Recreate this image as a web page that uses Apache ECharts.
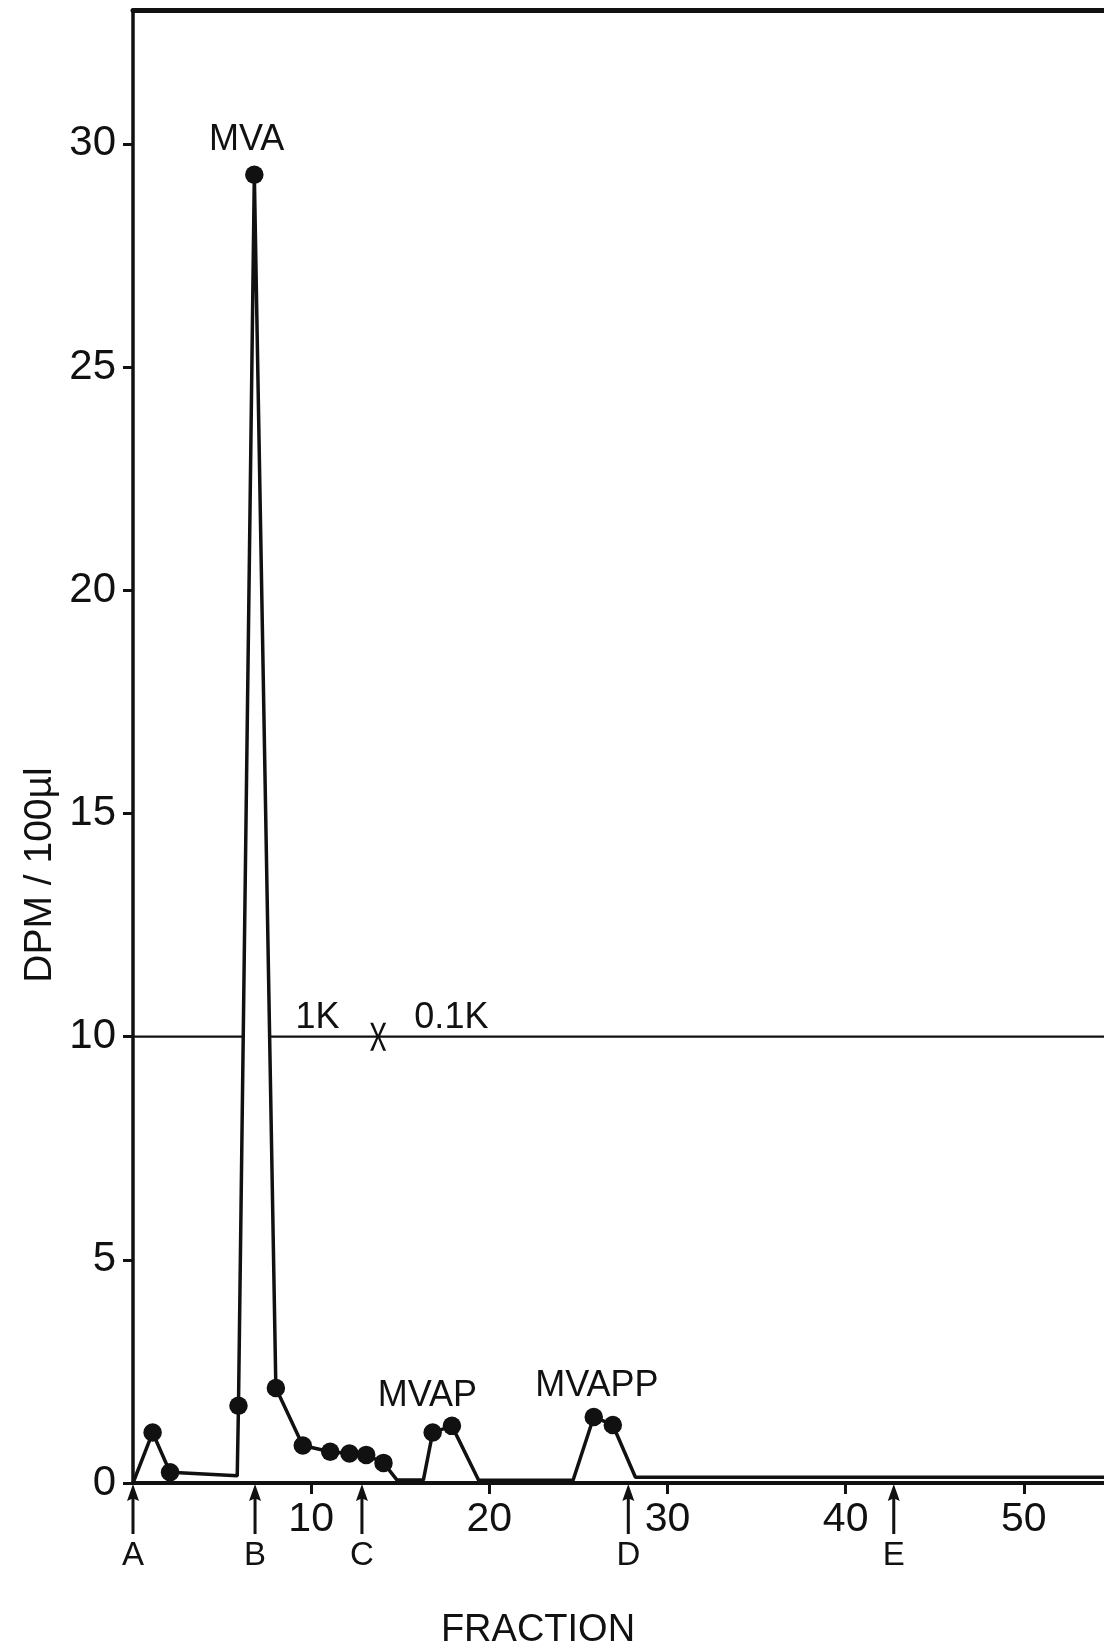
<!DOCTYPE html>
<html><head><meta charset="utf-8">
<script src="https://cdn.jsdelivr.net/npm/echarts@6/dist/echarts.min.js"></script>
<style>html,body{margin:0;padding:0;background:#fff}#c{width:1104px;height:1652px}</style>
</head><body><div id="c"></div>
<script>
// Measured fractions (filled dots)
const dotFractions = [1.1, 2.08, 5.92, 6.81, 8.02, 9.53, 11.07, 12.15, 13.09, 14.06, 16.82, 17.9, 25.86, 26.93];
const dotValues    = [1.13, 0.24, 1.73, 29.31, 2.13, 0.84, 0.70, 0.66, 0.63, 0.45, 1.13, 1.28, 1.48, 1.30];
// Baseline vertices of the trace (no marker)
const baseFractions = [0, 5.85, 14.81, 16.3, 19.4, 24.7, 28.2, 54.5];
const baseValues    = [0, 0.16, 0.07, 0.07, 0.06, 0.06, 0.13, 0.13];
// Tick values
const xTicks = [10, 20, 30, 40, 50];
const yTicks = [0, 5, 10, 15, 20, 25, 30];
// Fraction markers (arrows)
const markerLabels = ['A', 'B', 'C', 'D', 'E'];
const markerFractions = [0, 6.85, 12.85, 27.8, 42.7];
// Peak annotations
const annoLabels = ['MVA', '1K', '0.1K', 'MVAP', 'MVAPP'];
const annoFractions = [6.38, 10.36, 17.87, 16.52, 26.04];
const annoValues = [30.08, 10.42, 10.42, 1.95, 2.18];
// Scale change line and cross
const scaleChangeValue = 10;
const crossFraction = 13.76;

const FONT = "'Liberation Sans', Arial, sans-serif";
const INK = '#111';
const X_MAX = 54.5, Y_MAX = 33;

// merge trace
const trace = [];
dotFractions.forEach((f, i) => trace.push([f, dotValues[i]]));
baseFractions.forEach((f, i) => trace.push([f, baseValues[i]]));
trace.sort((a, b) => a[0] - b[0]);

// where trace crosses the scale-change line (the line is broken inside the MVA peak)
const crossings = [];
for (let i = 1; i < trace.length; i++) {
  const [x0, y0] = trace[i - 1], [x1, y1] = trace[i];
  if ((y0 - scaleChangeValue) * (y1 - scaleChangeValue) < 0) {
    crossings.push(x0 + (x1 - x0) * (scaleChangeValue - y0) / (y1 - y0));
  }
}

const chart = echarts.init(document.getElementById('c'), null, {renderer: 'canvas'});
const lineSeg = (a, b) => ({
  type: 'line', data: [[a, scaleChangeValue], [b, scaleChangeValue]], symbol: 'none',
  lineStyle: {color: INK, width: 2.2, opacity: 1}, silent: true, z: 2
});
const solid = {color: INK, opacity: 1};

chart.setOption({
  animation: false,
  backgroundColor: '#fff',
  grid: {left: 133, right: 0, top: 10, bottom: 169, containLabel: false},
  xAxis: [{
    type: 'value', min: 0, max: X_MAX, interval: 10, position: 'bottom',
    axisLine: {show: true, lineStyle: {color: INK, width: 4}},
    axisTick: {show: true, customValues: xTicks, length: 11, lineStyle: {color: INK, width: 3}},
    axisLabel: {customValues: xTicks, margin: 16, fontSize: 41, color: INK, fontFamily: FONT},
    splitLine: {show: false}
  }, {
    type: 'value', min: 0, max: X_MAX, position: 'top',
    axisLine: {show: true, lineStyle: {color: INK, width: 5}},
    axisTick: {show: false}, axisLabel: {show: false}, splitLine: {show: false}
  }],
  yAxis: {
    type: 'value', min: 0, max: Y_MAX, interval: 5,
    axisLine: {show: true, lineStyle: {color: INK, width: 3.5}},
    axisTick: {show: true, customValues: yTicks, length: 10, lineStyle: {color: INK, width: 3}},
    axisLabel: {customValues: yTicks, margin: 17, fontSize: 42, color: INK, fontFamily: FONT},
    splitLine: {show: false}
  },
  graphic: [{
    type: 'text', x: 538, y: 1631,
    style: {text: 'FRACTION', font: '38px ' + FONT, fill: INK, textAlign: 'center', textVerticalAlign: 'middle'}
  }, {
    type: 'text', x: 40, y: 875, rotation: Math.PI / 2,
    style: {text: 'DPM / 100µl', font: '39px ' + FONT, fill: INK, textAlign: 'center', textVerticalAlign: 'middle'}
  }],
  series: [
    lineSeg(0, crossings[0]),
    lineSeg(crossings[1], X_MAX),
    {
      type: 'line', data: trace, symbol: 'none', silent: true, z: 3,
      lineStyle: {color: INK, width: 3.5, opacity: 1}
    },
    {
      type: 'scatter', data: dotFractions.map((f, i) => [f, dotValues[i]]),
      symbol: 'circle', symbolSize: 18.5, itemStyle: solid, silent: true, z: 4
    },
    {
      type: 'scatter', data: [[crossFraction, scaleChangeValue]], silent: true, z: 4,
      symbol: 'path://M0,0 L2.6,0 L7,8.6 L11.4,0 L14,0 L8.4,10 L14,20 L11.4,20 L7,11.4 L2.6,20 L0,20 L5.6,10 Z',
      symbolSize: [16, 28], symbolKeepAspect: false, itemStyle: solid
    },
    {
      type: 'scatter', silent: true, z: 5,
      data: annoLabels.map((t, i) => ({name: t, value: [annoFractions[i], annoValues[i]]})),
      symbol: 'circle', symbolSize: 1, itemStyle: {color: 'rgba(0,0,0,0)', opacity: 1},
      label: {show: true, position: 'inside', formatter: '{b}', fontSize: 36, color: INK, fontFamily: FONT, opacity: 1}
    },
    {
      type: 'scatter', silent: true, z: 5, clip: false,
      data: markerLabels.map((t, i) => ({name: t, value: [markerFractions[i], 0]})),
      symbol: 'path://M6,0 L12,17 L7.5,15 L7.5,50 L4.5,50 L4.5,15 L0,17 Z',
      symbolSize: [12, 50], symbolKeepAspect: false, symbolOffset: [0, 26],
      itemStyle: solid,
      label: {show: true, position: 'bottom', distance: 5, formatter: '{b}', fontSize: 33, color: INK, fontFamily: FONT, opacity: 1}
    }
  ]
});
</script>
</body></html>
